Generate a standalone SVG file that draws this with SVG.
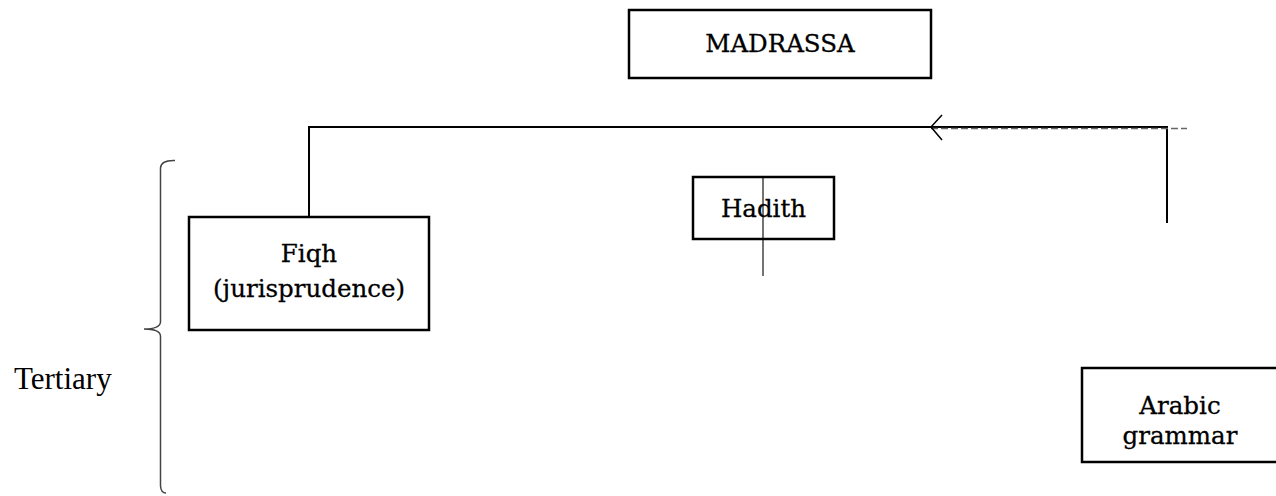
<svg xmlns="http://www.w3.org/2000/svg" width="1276" height="496" viewBox="0 0 1276 496">
<style>
.box{fill:#fff;stroke:#000;stroke-width:2.5}
.lbl{font-family:"DejaVu Serif","Liberation Serif",serif;font-size:24.5px;fill:#000;stroke:#000;stroke-width:0.3;text-anchor:middle}
.plain{font-family:"Liberation Serif","Times New Roman",serif;font-size:31px;fill:#000}
.conn{fill:none;stroke:#000;stroke-width:2}
</style>
<rect width="1276" height="496" fill="#fff"/>
<g id="connectors">
<path class="conn" d="M309,216 V127 H1167 V223"/>
<line x1="931" y1="128.5" x2="1187" y2="128.5" stroke="#666" stroke-width="1.5" stroke-dasharray="7,3"/>
<polyline points="942,115 931,127 942,140" fill="none" stroke="#000" stroke-width="1.5"/>
<line x1="763" y1="177" x2="763" y2="276" stroke="#444" stroke-width="1.5"/>
</g>
<g id="madrassa">
<rect class="box" x="629" y="10" width="302" height="68"/>
<text class="lbl" x="780" y="52" font-size="26">MADRASSA</text>
</g>
<g id="fiqh">
<rect class="box" x="189" y="217" width="240" height="113"/>
<text class="lbl" x="309" y="262">Fiqh</text>
<text class="lbl" x="309" y="297">(jurisprudence)</text>
</g>
<g id="hadith">
<rect class="box" x="693" y="177" width="141" height="62" style="fill:none"/>
<text class="lbl" x="763.5" y="217">Hadith</text>
</g>
<g id="arabic">
<rect class="box" x="1082" y="368" width="200" height="94"/>
<text class="lbl" x="1180" y="414">Arabic</text>
<text class="lbl" x="1180" y="444">grammar</text>
</g>
<g id="tertiary">
<path d="M175,160.5 Q161,160 160.5,168 V322 Q160,329 144,329 Q160,329 160.5,336 V486 Q161,493 166,493" fill="none" stroke="#444" stroke-width="1.5"/>
<text class="plain" x="14" y="389">Tertiary</text>
</g>
</svg>
